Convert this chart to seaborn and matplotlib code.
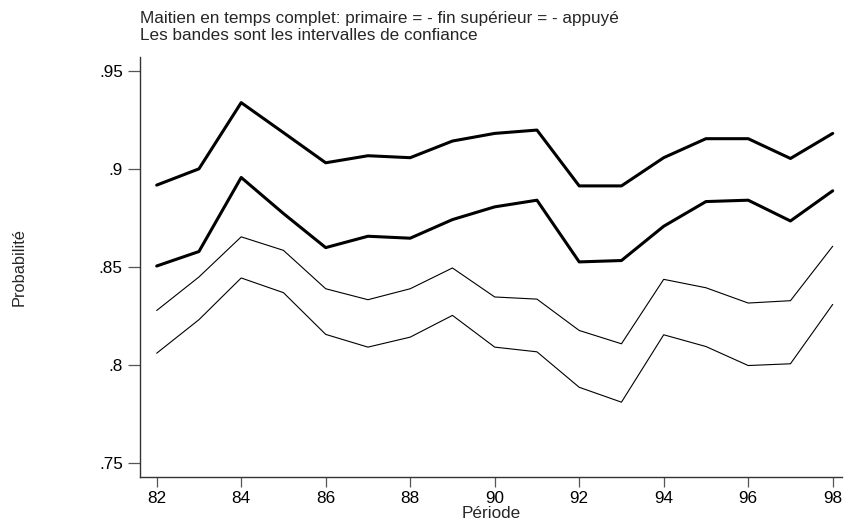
import numpy as np
import pandas as pd
import matplotlib
matplotlib.use("Agg")
import matplotlib.pyplot as plt
import seaborn as sns

# Période (année)
periode = [82, 83, 84, 85, 86, 87, 88, 89, 90, 91, 92, 93, 94, 95, 96, 97, 98]

# Groupe en trait épais : bornes supérieure et inférieure
epais_haut = [0.8917, 0.9000, 0.9338, 0.9185, 0.9031, 0.9067, 0.9057, 0.9142, 0.9181,
              0.9198, 0.8913, 0.8913, 0.9057, 0.9154, 0.9154, 0.9053, 0.9181]
epais_bas = [0.8504, 0.8578, 0.8956, 0.8772, 0.8598, 0.8656, 0.8646, 0.8741, 0.8806,
             0.8840, 0.8525, 0.8532, 0.8707, 0.8833, 0.8840, 0.8734, 0.8888]

# Groupe en trait fin : bornes supérieure et inférieure
fin_haut = [0.8277, 0.8448, 0.8653, 0.8584, 0.8388, 0.8332, 0.8388, 0.8494, 0.8346,
            0.8335, 0.8175, 0.8107, 0.8436, 0.8393, 0.8315, 0.8327, 0.8605]
fin_bas = [0.8059, 0.8230, 0.8443, 0.8368, 0.8155, 0.8090, 0.8141, 0.8252, 0.8090,
           0.8066, 0.7885, 0.7809, 0.8153, 0.8093, 0.7996, 0.8005, 0.8308]

y_ticks = [0.75, 0.80, 0.85, 0.90, 0.95]
y_tick_labels = [".75", ".8", ".85", ".9", ".95"]
x_ticks = [82, 84, 86, 88, 90, 92, 94, 96, 98]

titre_1 = "Maitien en temps complet: primaire = - fin supérieur = - appuyé"
titre_2 = "Les bandes sont les intervalles de confiance"

df = pd.DataFrame({
    "periode": periode * 4,
    "prob": epais_haut + epais_bas + fin_haut + fin_bas,
    "serie": (["epais_haut"] * len(periode) + ["epais_bas"] * len(periode)
              + ["fin_haut"] * len(periode) + ["fin_bas"] * len(periode)),
})

sns.set_theme(style="white")
plt.rcParams["font.family"] = ["Liberation Sans", "DejaVu Sans"]

fig = plt.figure(figsize=(8.49, 5.24), dpi=100)
W, H = 849, 524
left, right, top, bottom = 140, 842, 57, 477
ax = fig.add_axes([left / W, 1 - bottom / H, (right - left) / W, (bottom - top) / H])

styles = {"epais_haut": 2.2, "epais_bas": 2.2, "fin_haut": 0.8, "fin_bas": 0.8}
for name, lw in styles.items():
    sns.lineplot(data=df[df["serie"] == name], x="periode", y="prob", ax=ax,
                 color="black", linewidth=lw, legend=False)

ax.set_xlim(81.605, 98.22)
ax.set_ylim(0.7427, 0.9571)
ax.set_xticks(x_ticks)
ax.set_xticklabels([str(v) for v in x_ticks])
ax.set_yticks(y_ticks)
ax.set_yticklabels(y_tick_labels)

for s in ["top", "right"]:
    ax.spines[s].set_visible(False)
for s in ["left", "bottom"]:
    ax.spines[s].set_color("#333333")
    ax.spines[s].set_linewidth(1.0)

ax.tick_params(axis="both", which="major", direction="out", length=8.5, width=0.9,
               color="#555555", labelsize=12.3, labelcolor="black", pad=4)
ax.tick_params(axis="x", bottom=True, length=7.5, pad=2.5)
ax.tick_params(axis="y", left=True)

ax.set_xlabel("Période", fontsize=12.3, labelpad=0)
ax.set_ylabel("Probabilité", fontsize=11.8, labelpad=0)
ax.yaxis.set_label_coords((27 - left) / (right - left), 0.5)

fig.text(left / W, 1 - 18 / H, titre_1, fontsize=12.3, ha="left", va="center")
fig.text(left / W, 1 - 36 / H, titre_2, fontsize=12.3, ha="left", va="center")

fig.savefig("out.png", dpi=100, facecolor="white")
